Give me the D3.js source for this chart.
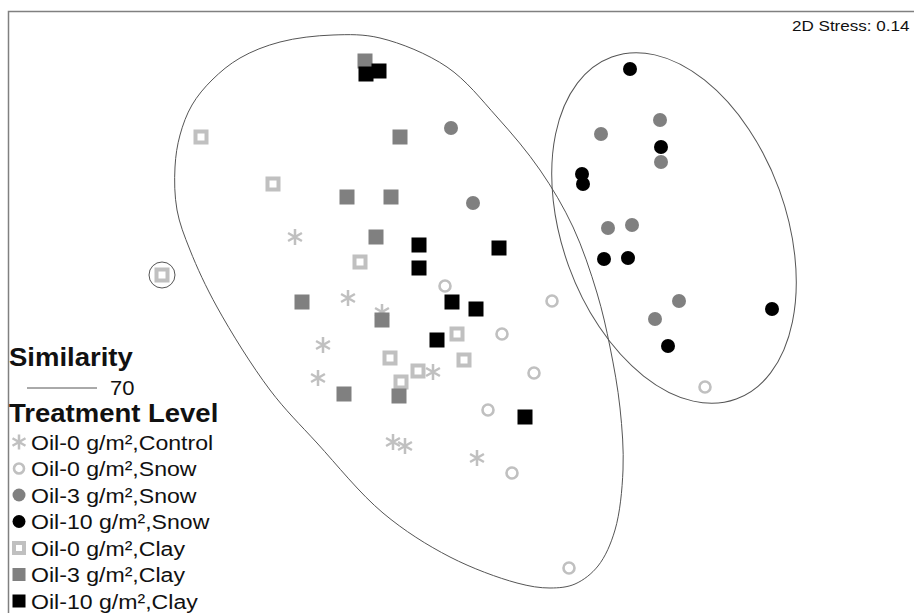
<!DOCTYPE html>
<html>
<head>
<meta charset="utf-8">
<script src="https://cdn.jsdelivr.net/npm/d3@7"></script>
<style>
  body { margin: 0; background: #fff; }
  svg { display: block; font-family: "Liberation Sans", Arial, sans-serif; }
</style>
</head>
<body>
<script>
var width = 914,
    height = 613;

// nMDS coordinates, one array per treatment level
var control0 = [[-1.65,0.63],[-1.12,0.02],[-0.78,-0.12],[-1.37,-0.45],[-1.42,-0.78],[-0.27,-0.72],[-0.67,-1.42],[-0.55,-1.46],[0.17,-1.58]];
var snow0 = [[-0.15,0.14],[0.92,-0.01],[0.42,-0.34],[0.74,-0.73],[0.28,-1.10],[0.52,-1.73],[1.09,-2.68],[2.45,-0.87]];
var snow3 = [[-0.09,1.72],[0.13,0.97],[1.41,1.66],[2.00,1.80],[2.01,1.38],[1.48,0.72],[1.72,0.75],[2.19,-0.01],[1.95,-0.19]];
var snow10 = [[1.70,2.31],[2.01,1.53],[1.22,1.26],[1.23,1.16],[1.44,0.41],[1.68,0.42],[3.12,-0.09],[2.08,-0.46]];
var clay0 = [[-2.59,1.63],[-1.87,1.16],[-1.00,0.38],[-0.03,-0.34],[-0.70,-0.58],[0.04,-0.60],[-0.42,-0.71],[-0.59,-0.82],[-2.98,0.25]];
var clay3 = [[-0.95,2.39],[-0.60,1.63],[-1.13,1.03],[-0.69,1.03],[-0.84,0.63],[-1.58,-0.02],[-0.78,-0.20],[-1.16,-0.94],[-0.61,-0.96]];
var clay10 = [[-0.94,2.26],[-0.81,2.29],[-0.41,0.55],[-0.41,0.32],[0.39,0.52],[-0.08,-0.02],[0.16,-0.09],[-0.23,-0.40],[0.65,-1.17]];

var labels = ["Oil-0 g/m\u00b2,Control", "Oil-0 g/m\u00b2,Snow", "Oil-3 g/m\u00b2,Snow", "Oil-10 g/m\u00b2,Snow",
              "Oil-0 g/m\u00b2,Clay", "Oil-3 g/m\u00b2,Clay", "Oil-10 g/m\u00b2,Clay"];

// similarity 70 contours
var contourBig = [[-1.27,2.65],[-0.80,2.62],[-0.13,2.33],[0.37,1.83],[0.80,1.30],[1.13,0.73],[1.37,0.07],[1.50,-0.47],
  [1.60,-1.08],[1.63,-1.70],[1.55,-2.30],[1.38,-2.66],[1.15,-2.84],[0.90,-2.88],[0.57,-2.83],[-0.10,-2.57],[-0.77,-2.13],
  [-1.43,-1.43],[-1.90,-0.90],[-2.43,-0.07],[-2.70,0.50],[-2.83,0.90],[-2.85,1.33],[-2.80,1.65],[-2.68,1.95],
  [-2.48,2.20],[-2.20,2.42],[-1.80,2.58]];
var contourRight = [2.14, 0.72, 1.82, 1.12, 70]; // cx, cy, rx, ry, angle
var contourSingle = [-2.98, 0.25, 0.13];

var stress = "2D Stress: 0.14";

var x = d3.scaleLinear().domain([-4.6, 4.54]).range([0, width]);
var y = d3.scaleLinear().domain([3, -3.13]).range([0, height]);

var svg = d3.select("body").append("svg")
    .attr("width", width)
    .attr("height", height);

var light = "#c0c0c0", mid = "#808080", dark = "#000";
var sx = 1.1; // the original lettering is a little wider than Liberation Sans

function label(g, tx, ty, size, txt, bold) {
  return g.append("text")
      .attr("transform", "translate(" + tx + "," + ty + ") scale(" + sx + ",1)")
      .attr("font-size", size)
      .attr("font-weight", bold ? "bold" : null)
      .text(txt);
}

// frame (only top and left edges are visible)
svg.append("path")
    .attr("d", "M8.5," + height + "V11.5H" + width)
    .attr("fill", "none")
    .attr("stroke", "#808080")
    .attr("stroke-width", 1.5);

label(svg, 792, 31, 15.5, stress).attr("fill", "#111");

// contours
var line = d3.line()
    .x(function(d) { return x(d[0]); })
    .y(function(d) { return y(d[1]); })
    .curve(d3.curveCatmullRomClosed.alpha(0.5));

var cont = svg.append("g")
    .attr("fill", "none")
    .attr("stroke", "#555")
    .attr("stroke-width", 1);

cont.append("path").attr("d", line(contourBig));

cont.append("ellipse")
    .attr("cx", x(contourRight[0]))
    .attr("cy", y(contourRight[1]))
    .attr("rx", x(contourRight[0] + contourRight[2]) - x(contourRight[0]))
    .attr("ry", x(contourRight[0] + contourRight[3]) - x(contourRight[0]))
    .attr("transform", "rotate(" + contourRight[4] + "," + x(contourRight[0]) + "," + y(contourRight[1]) + ")");

cont.append("circle")
    .attr("cx", x(contourSingle[0]))
    .attr("cy", y(contourSingle[1]))
    .attr("r", x(contourSingle[0] + contourSingle[2]) - x(contourSingle[0]));

// marker drawing
function asterisk(g, s) {
  var p = d3.path();
  for (var k = 0; k < 3; k++) {
    var a = Math.PI / 2 + k * Math.PI / 3;
    p.moveTo(Math.cos(a) * s, Math.sin(a) * s);
    p.lineTo(-Math.cos(a) * s, -Math.sin(a) * s);
  }
  g.append("path").attr("d", p.toString())
      .attr("fill", "none").attr("stroke", light).attr("stroke-width", 2.5);
}
function hollowCircle(g, r) {
  g.append("circle").attr("r", r).attr("fill", "#fff").attr("stroke", light).attr("stroke-width", 2.6);
}
function dot(color) {
  return function(g, r) { g.append("circle").attr("r", r).attr("fill", color); };
}
function hollowSquare(g, s) {
  g.append("rect").attr("x", -s / 2).attr("y", -s / 2).attr("width", s).attr("height", s)
      .attr("fill", "#fff").attr("stroke", light).attr("stroke-width", 4);
}
function square(color) {
  return function(g, s) {
    g.append("rect").attr("x", -s / 2).attr("y", -s / 2).attr("width", s).attr("height", s).attr("fill", color);
  };
}

var groups = [
  {data: control0, draw: asterisk, size: 8, lsize: 7.5},
  {data: snow0, draw: hollowCircle, size: 5.5, lsize: 5},
  {data: snow3, draw: dot(mid), size: 7, lsize: 6.5},
  {data: snow10, draw: dot(dark), size: 7, lsize: 6.5},
  {data: clay0, draw: hollowSquare, size: 11, lsize: 10},
  {data: clay3, draw: square(mid), size: 15, lsize: 13},
  {data: clay10, draw: square(dark), size: 15, lsize: 13}
];

var pts = svg.append("g");
groups.forEach(function(grp) {
  pts.selectAll(null).data(grp.data).enter().append("g")
      .attr("transform", function(d) { return "translate(" + x(d[0]) + "," + y(d[1]) + ")"; })
      .each(function() { grp.draw(d3.select(this), grp.size); });
});

// legend
var leg = svg.append("g").attr("fill", "#111");

label(leg, 9, 366, 25, "Similarity", true);
leg.append("line").attr("x1", 27).attr("x2", 97).attr("y1", 388).attr("y2", 388)
    .attr("stroke", "#555").attr("stroke-width", 1);
label(leg, 110, 395, 20, "70");
label(leg, 9, 422, 25, "Treatment Level", true);

var items = leg.selectAll("g.item").data(groups).enter().append("g")
    .attr("class", "item")
    .attr("transform", function(d, i) { return "translate(0," + (442 + i * 26.5) + ")"; });

items.append("g").attr("transform", "translate(19,0)")
    .each(function(d) { d.draw(d3.select(this), d.lsize); });

items.each(function(d, i) { label(d3.select(this), 31, 7.5, 21, labels[i]); });
</script>
</body>
</html>
